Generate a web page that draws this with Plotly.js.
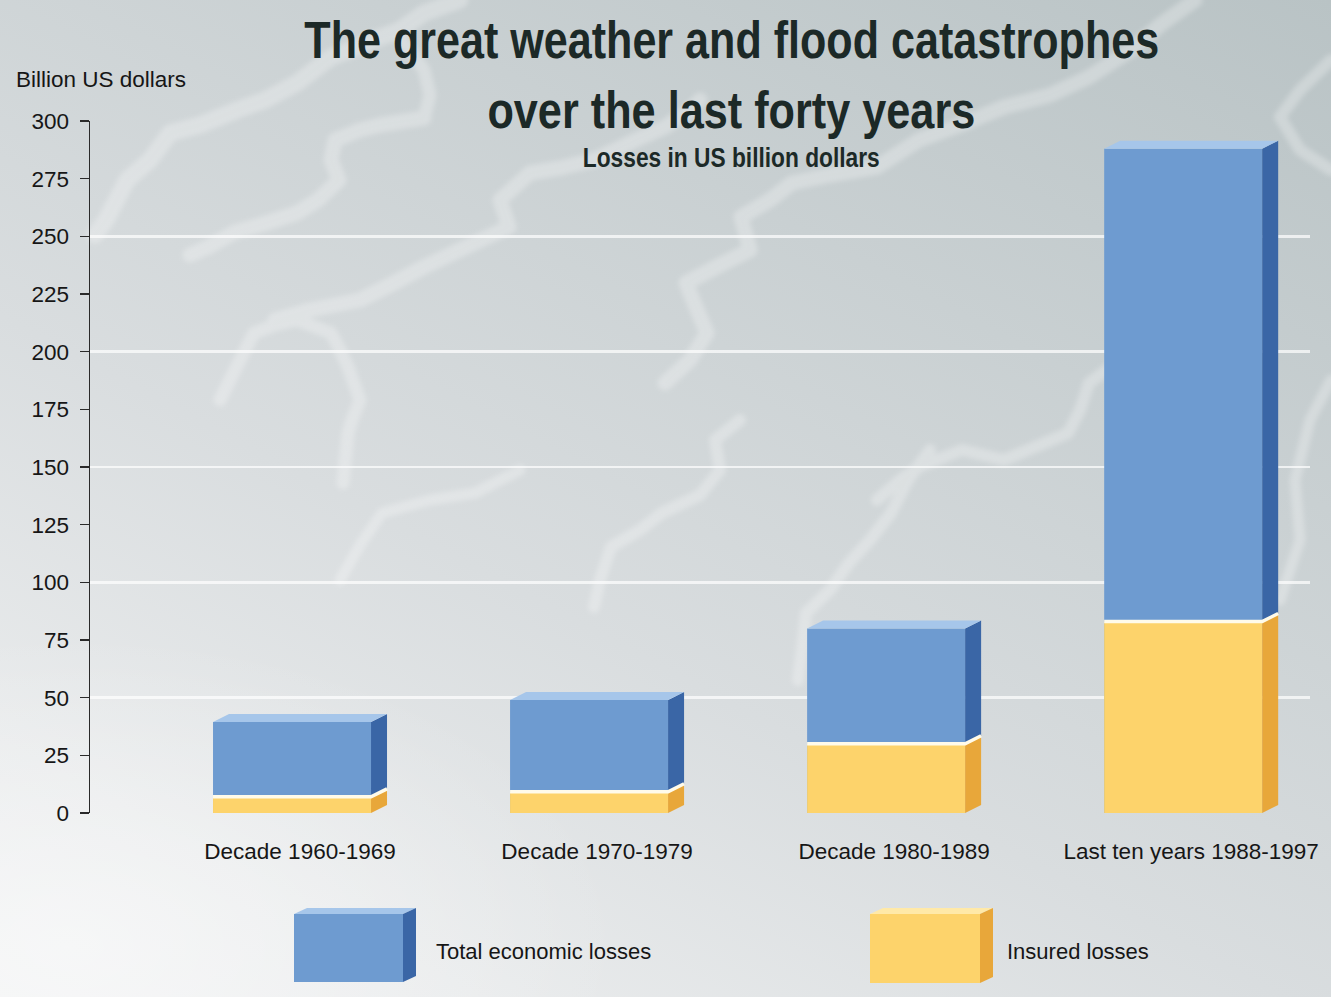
<!DOCTYPE html>
<html>
<head>
<meta charset="utf-8">
<script src="https://cdn.plot.ly/plotly-3.0.1.min.js"></script>
<style>
  html, body { margin: 0; padding: 0; }
  body {
    width: 1331px; height: 997px; overflow: hidden;
    background:
      radial-gradient(ellipse 800px 450px at 5% 95%, rgba(255,255,255,0.5), rgba(255,255,255,0) 70%),
      linear-gradient(208deg, #b9c3c5 0%, #c9d0d2 30%, #d9dddf 60%, #e9ebec 85%, #f0f1f2 100%);
  }
  #bgsvg { position: absolute; left: 0; top: 0; }
  #chart { position: absolute; left: 0; top: 0; width: 1331px; height: 997px; }
</style>
</head>
<body>
<svg id="bgsvg" width="1331" height="997" xmlns="http://www.w3.org/2000/svg">
  <defs><filter id="soft"><feGaussianBlur stdDeviation="2.5"/></filter></defs>
  <g fill="none" stroke="#ffffff" stroke-linejoin="round" stroke-linecap="round" opacity="0.27" filter="url(#soft)">
    <path stroke-width="17" d="M95 235 L106 220 L127 180 L150 160 L170 133 L200 125 L237 110 L265 100 L297 83 L331 57 L350 50 L373 40 L400 30 L424 13 L460 0"/>
    <path stroke-width="13" d="M424 118 L430 95 L424 70 L410 50 L400 38"/>
    <path stroke-width="15" d="M190 255 L208 247 L235 232 L260 225 L297 213 L318 200 L339 180 L331 160 L335 140 L360 130 L380 125 L424 118"/>
    <path stroke-width="13" d="M220 400 L240 360 L254 333 L275 325 L297 320 L331 333 L340 350 L348 367 L360 400 L352 420 L348 433 L343 483"/>
    <path stroke-width="15" d="M275 320 L310 310 L360 300 L390 285 L424 267 L466 247 L509 227 L500 200 L530 173 L560 168 L594 160 L636 140 L665 127 L690 110 L700 100"/>
    <path stroke-width="15" d="M665 383 L690 360 L707 333 L695 305 L686 283 L720 265 L750 250 L741 217 L770 200 L792 183 L830 175 L877 167 L919 140 L960 125 L1004 107 L1050 95 L1089 77 L1131 50 L1160 25 L1195 0"/>
    <path stroke-width="12" d="M877 500 L900 480 L919 467 L962 450 L1004 460 L1040 445 L1068 433 L1080 410 L1089 383 L1120 360"/>
    <path stroke-width="12" d="M594 607 L600 580 L611 547 L640 530 L662 513 L700 495 L720 470 L715 440 L740 420"/>
    <path stroke-width="12" d="M798 680 L802 650 L806 613 L830 590 L849 563 L870 540 L891 513 L908 480 L930 450"/>
    <path stroke-width="11" d="M340 580 L360 545 L382 513 L430 500 L475 493 L520 470"/>
    <path stroke-width="12" d="M1331 60 L1300 90 L1280 117 L1300 150 L1331 170"/>
    <path stroke-width="11" d="M1280 600 L1300 540 L1295 480 L1310 420 L1331 380"/>
  </g>
</svg>
<div id="chart"></div>
<script>
// ---- data ----
const categories = ["Decade 1960-1969", "Decade 1970-1979", "Decade 1980-1989", "Last ten years 1988-1997"];
const totalLosses = [39.5, 49, 80, 288];      // Total economic losses, US$ bn
const insuredLosses = [7, 9.2, 30, 83];       // Insured losses, US$ bn
const yTicks = [0, 25, 50, 75, 100, 125, 150, 175, 200, 225, 250, 275, 300];
const gridVals = [50, 100, 150, 200, 250, 300];

// ---- geometry / style ----
const W = 1331, H = 997;
const M = {l: 90, r: 21, t: 121, b: 184};
const XR = [-0.707, 3.4];
const YR = [0, 300];
const pxPerX = (W - M.l - M.r) / (XR[1] - XR[0]);
const pxPerY = (H - M.t - M.b) / (YR[1] - YR[0]);
const barW = 158 / pxPerX;           // front face width in x units
const depthX = 16 / pxPerX;          // 3D depth, x units
const depthY = 8 / pxPerY;           // 3D depth, y units
const frontOffset = -(barW + depthX) / 2;

const blue = "#6e9bd0", blueSide = "#3a66a6", blueTop = "#a6c6ea";
const yellow = "#fdd36b", yellowSide = "#e8a73a";
const dark = "#1c2927";
const xs = categories.map((c, i) => i);

function polys(fn) {
  const X = [], Y = [];
  xs.forEach(i => {
    fn(i).forEach(p => { X.push(p[0]); Y.push(p[1]); });
    X.push(null); Y.push(null);
  });
  return {X, Y};
}
function faceTrace(fn, color) {
  const p = polys(fn);
  return {type: "scatter", mode: "lines", x: p.X, y: p.Y, fill: "toself",
          fillcolor: color, line: {width: 0, color: color}, hoverinfo: "skip",
          showlegend: false, connectgaps: false};
}
const xl = i => i + frontOffset;
const xr = i => i + frontOffset + barW;

const traces = [
  // invisible trace to activate the grid axis
  {type: "scatter", x: [XR[0]], y: [0], yaxis: "y2", mode: "markers",
   marker: {opacity: 0}, hoverinfo: "skip", showlegend: false},
  {type: "bar", name: "Total economic losses", x: xs, y: totalLosses,
   width: barW, offset: frontOffset, marker: {color: blue, line: {width: 0}}, showlegend: false},
  {type: "bar", name: "Insured losses", x: xs, y: insuredLosses,
   width: barW, offset: frontOffset, marker: {color: yellow, line: {width: 0}}, showlegend: false},
  faceTrace(i => [[xr(i), insuredLosses[i]], [xr(i) + depthX, insuredLosses[i] + depthY],
                  [xr(i) + depthX, totalLosses[i] + depthY], [xr(i), totalLosses[i]]], blueSide),
  faceTrace(i => [[xr(i), 0], [xr(i) + depthX, depthY],
                  [xr(i) + depthX, insuredLosses[i] + depthY], [xr(i), insuredLosses[i]]], yellowSide),
  faceTrace(i => [[xl(i), totalLosses[i]], [xl(i) + depthX, totalLosses[i] + depthY],
                  [xr(i) + depthX, totalLosses[i] + depthY], [xr(i), totalLosses[i]]], blueTop),
];
(function () {
  const X = [], Y = [];
  xs.forEach(i => {
    X.push(xl(i), xr(i), xr(i) + depthX, null);
    Y.push(insuredLosses[i], insuredLosses[i], insuredLosses[i] + depthY, null);
  });
  traces.push({type: "scatter", mode: "lines", x: X, y: Y, line: {color: "#fffbea", width: 3.5},
               hoverinfo: "skip", showlegend: false, connectgaps: false});
})();

// pixel -> paper helpers (layout only)
const px = v => (v - M.l) / (W - M.l - M.r);
const py = v => (H - M.b - v) / (H - M.t - M.b);

const fontBase = "Liberation Sans, Arial, Helvetica, sans-serif";

const annotations = [
  {text: "<b>The great weather and flood catastrophes</b>", x: px(732), y: py(40), xref: "paper", yref: "paper",
   xanchor: "center", yanchor: "middle", showarrow: false, font: {family: fontBase, size: 52, color: dark}},
  {text: "<b>over the last forty years</b>", x: px(731), y: py(110), xref: "paper", yref: "paper",
   xanchor: "center", yanchor: "middle", showarrow: false, font: {family: fontBase, size: 52, color: dark}},
  {text: "<b>Losses in US billion dollars</b>", x: px(731), y: py(158), xref: "paper", yref: "paper",
   xanchor: "center", yanchor: "middle", showarrow: false, font: {family: fontBase, size: 27, color: dark}},
  {text: "Billion US dollars", x: px(14), y: py(79), xref: "paper", yref: "paper",
   xanchor: "left", yanchor: "middle", showarrow: false, font: {family: fontBase, size: 22.5, color: "#161616"}},
  {text: "Total economic losses", x: px(434), y: py(951), xref: "paper", yref: "paper",
   xanchor: "left", yanchor: "middle", showarrow: false, font: {family: fontBase, size: 22, color: "#161616"}},
  {text: "Insured losses", x: px(1005), y: py(951), xref: "paper", yref: "paper",
   xanchor: "left", yanchor: "middle", showarrow: false, font: {family: fontBase, size: 22, color: "#161616"}},
];
// target rendered widths (px) for the condensed headline lines, by annotation index
const condensedWidths = {0: 855, 1: 488, 2: 297};

function legendBox(x0, x1, y0, y1, front, side, top) {
  const d = 13, dy = 6;
  return [
    {type: "path", xref: "paper", yref: "paper", layer: "above", line: {width: 0}, fillcolor: top,
     path: `M${px(x0)},${py(y0)} L${px(x0 + d)},${py(y0 - dy)} L${px(x1 + d)},${py(y0 - dy)} L${px(x1)},${py(y0)} Z`},
    {type: "path", xref: "paper", yref: "paper", layer: "above", line: {width: 0}, fillcolor: side,
     path: `M${px(x1)},${py(y0)} L${px(x1 + d)},${py(y0 - dy)} L${px(x1 + d)},${py(y1 - dy)} L${px(x1)},${py(y1)} Z`},
    {type: "rect", xref: "paper", yref: "paper", layer: "above", line: {width: 0}, fillcolor: front,
     x0: px(x0), x1: px(x1), y0: py(y1), y1: py(y0)},
  ];
}
const shapes = [
  ...legendBox(294, 403, 914, 982, blue, blueSide, blueTop),
  ...legendBox(870, 980, 914, 983, yellow, yellowSide, "#ffe9a8"),
];

const layout = {
  width: W, height: H,
  margin: M,
  paper_bgcolor: "rgba(0,0,0,0)",
  plot_bgcolor: "rgba(0,0,0,0)",
  barmode: "overlay",
  showlegend: false,
  xaxis: {range: XR, tickmode: "array", tickvals: xs, ticktext: categories,
          showgrid: false, zeroline: false, showline: false, ticks: "",
          tickfont: {family: fontBase, size: 22.5, color: "#161616"}, ticklabelstandoff: 22,
          fixedrange: true},
  yaxis: {range: YR, tickmode: "array", tickvals: yTicks, showgrid: false, zeroline: false,
          showline: true, linecolor: "#2a2a2a", linewidth: 1.5,
          ticks: "outside", ticklen: 9, tickwidth: 1.5, tickcolor: "#2a2a2a",
          tickfont: {family: fontBase, size: 22.5, color: "#161616"}, ticklabelstandoff: 6,
          fixedrange: true},
  yaxis2: {range: YR, overlaying: "y", tickmode: "array", tickvals: gridVals, showgrid: true,
           gridcolor: "rgba(255,255,255,0.7)", gridwidth: 2.5, showticklabels: false, ticks: "",
           zeroline: false, showline: false, fixedrange: true},
  annotations: annotations,
  shapes: shapes,
};

Plotly.newPlot("chart", traces, layout, {staticPlot: true, displayModeBar: false}).then(() => {
  document.querySelectorAll("#chart g.annotation").forEach(g => {
    const idx = +g.getAttribute("data-index");
    if (!(idx in condensedWidths)) return;
    const t = g.querySelector("text.annotation-text");
    if (!t) return;
    const bb = t.getBBox();
    const s = condensedWidths[idx] / bb.width;
    const cx = bb.x + bb.width / 2;
    t.setAttribute("transform", `translate(${cx},0) scale(${s},1) translate(${-cx},0)`);
  });
});
</script>
</body>
</html>
